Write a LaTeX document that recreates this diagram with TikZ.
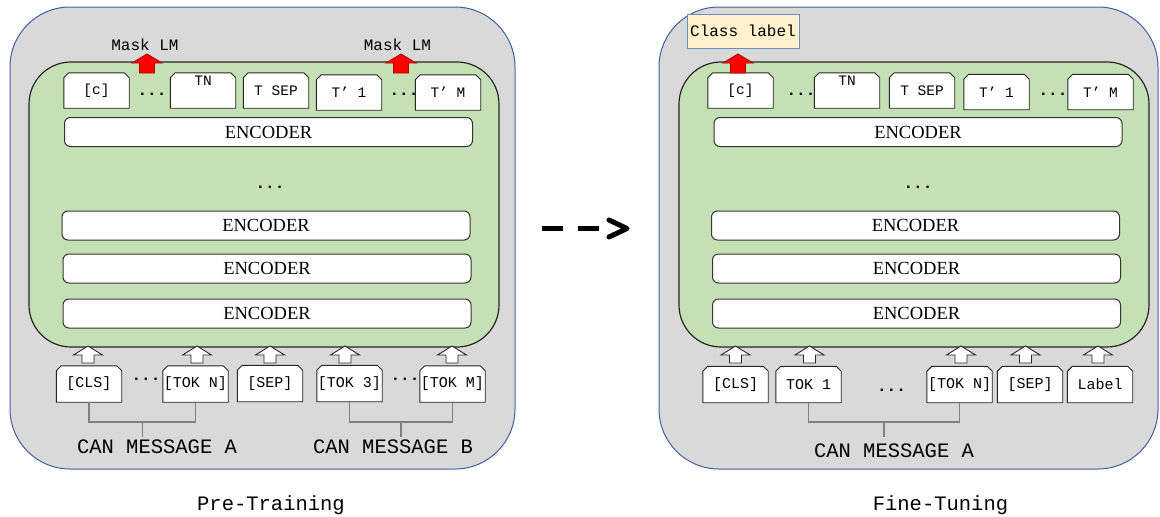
\documentclass[tikz,border=0pt]{standalone}
\usepackage{fontspec}
\setmainfont{Liberation Serif}
\newfontfamily\monof{Liberation Mono}
\usetikzlibrary{calc}
\definecolor{boxgray}{RGB}{217,217,217}
\definecolor{boxblue}{RGB}{65,95,160}
\definecolor{encgreen}{RGB}{197,224,180}
\definecolor{lblyellow}{RGB}{255,242,204}
\definecolor{lblblue}{RGB}{108,142,191}
\definecolor{redborder}{RGB}{178,0,0}
\definecolor{brgray}{RGB}{128,128,128}
\pgfdeclarelayer{back}
\pgfdeclarelayer{mid}
\pgfsetlayers{back,mid,main}
\begin{document}
\begin{tikzpicture}[x=1pt,y=-1pt,
  outerbox/.style={draw=boxblue, fill=boxgray, line width=1pt, rounded corners=60pt},
  greenbox/.style={draw=black!85, fill=encgreen, line width=1.2pt, rounded corners=42pt},
  encoder/.style={draw=black!80, fill=white, line width=1pt, rounded corners=6pt,
    minimum width=408pt, minimum height=29pt, inner sep=0pt, font=\fontsize{18.5}{20}\selectfont},
  tokbox/.style={rectangle, minimum width=65pt, minimum height=35pt, inner sep=0pt,
    font=\monof\fontsize{14.5}{16}\selectfont},
  btok/.style={tokbox, minimum height=36pt, font=\monof\fontsize{15}{16}\selectfont},
  tokline/.style={draw=black!85, fill=white, line width=0.9pt},
  dotsty/.style={font=\monof\bfseries\fontsize{16}{16}\selectfont, inner sep=0pt},
  masklbl/.style={font=\monof\fontsize{16}{18}\selectfont, inner sep=0pt, anchor=base},
  msg/.style={font=\monof\fontsize{20.5}{22}\selectfont, inner sep=0pt, anchor=base},
  classlbl/.style={draw=lblblue, fill=lblyellow, line width=1pt, minimum width=112pt,
    minimum height=34pt, inner sep=0pt, font=\monof\fontsize{16}{18}\selectfont},
  bracket/.style={draw=brgray, line width=1.2pt},
  upw/.pic={\draw[draw=black!85, fill=white, line width=0.9pt, line join=miter]
    (-6,0) -- (-6,-8) -- (-14.5,-8) -- (0,-17) -- (14.5,-8) -- (6,-8) -- (6,0) -- cycle;},
  upr/.pic={\draw[draw=redborder, fill=red, line width=0.9pt, line join=miter]
    (-7.5,0) -- (-7.5,-10) -- (-15,-10) -- (0,-19) -- (15,-10) -- (7.5,-10) -- (7.5,0) -- cycle;}
]
\useasboundingbox (0,0) rectangle (1160,517);
\begin{pgfonlayer}{back}
\fill[white] (0,0) rectangle (1160,517);
\path[outerbox] (10,7) rectangle (515,469);
\path[greenbox] (29,62) rectangle (499,347);
\path[outerbox] (659,7) rectangle (1158,469);
\path[greenbox] (679,62) rectangle (1149,347);
\end{pgfonlayer}

% ================= LEFT: PRE-TRAINING =================
\node[masklbl] (mlm1) at (145,50) {Mask LM};
\node[masklbl] (mlm2) at (397.5,50) {Mask LM};

\node[tokbox] (cL)    at (96.5,90.5) {[c]};
\node[tokbox] (tnL)   at (203,90.5)  {\raisebox{5.5pt}[0pt][0pt]{TN}};
\node[tokbox] (tsepL) at (276,90.5)  {T SEP};
\node[tokbox] (t1L)   at (349,92.5)  {T’ 1};
\node[tokbox] (tmL)   at (448,92.5)  {T’ M};
\node[dotsty] (d1L) at (152,94) {...};
\node[dotsty] (d2L) at (404,94) {...};

\pic at (147,73) {upr};
\pic at (401,73) {upr};

\node[encoder] (e1L) at (268.5,132)   {ENCODER};
\node[dotsty]  (mdL) at (270,187)     {...};
\node[encoder] (e2L) at (266,225.5)   {ENCODER};
\node[encoder] (e3L) at (267,268.5)   {ENCODER};
\node[encoder] (e4L) at (267,313.5)   {ENCODER};

\node[btok] (clsL)  at (89,384)    {[CLS]};
\node[btok] (toknL) at (195.5,384) {[TOK N]};
\node[btok] (sepL)  at (270,383.5) {[SEP]};
\node[btok] (tok3L) at (349.5,383.5) {[TOK 3]};
\node[btok] (tokmL) at (452.5,384) {[TOK M]};
\node[dotsty] (d3L) at (146,379) {...};
\node[dotsty] (d4L) at (405,379) {...};

\pic at (88,363)  {upw};
\pic at (197,363) {upw};
\pic at (270,363) {upw};
\pic at (345,363) {upw};
\pic at (452,363) {upw};

\coordinate (yb) at (0,422);
\draw[bracket] (clsL.south) -- (clsL.south |- yb) -- (toknL.south |- yb) -- (toknL.south);
\coordinate (stemA) at ($(clsL.south |- yb)!0.5!(toknL.south |- yb)$);
\draw[bracket] (stemA) -- ++(0,15);
\draw[bracket] (tok3L.south) -- (tok3L.south |- yb) -- (tokmL.south |- yb) -- (tokmL.south);
\coordinate (stemB) at ($(tok3L.south |- yb)!0.5!(tokmL.south |- yb)$);
\draw[bracket] (stemB) -- ++(0,15);

\node[msg] (msgA) at (157,453) {CAN MESSAGE A};
\node[msg] (msgB) at (393,453) {CAN MESSAGE B};
\node[msg] (pre)  at (271,510) {Pre-Training};

% ================= ARROW =================
\coordinate (da) at (542,228);
\coordinate (db) at (600,228);
\draw[line width=5pt, dash pattern=on 21pt off 15pt] (da) -- (db);
\coordinate (ca) at (609,220);
\coordinate (cb) at (627,228.5);
\coordinate (cc) at (609,237);
\draw[line width=5pt, line join=round, line cap=round] (ca) -- (cb) -- (cc);

% ================= RIGHT: FINE-TUNING =================
\node[classlbl] (cls) at (743,31) {Class label};

\node[tokbox] (cR)    at (740.5,90.5) {[c]};
\node[tokbox] (tnR)   at (847,90.5)   {\raisebox{5.5pt}[0pt][0pt]{TN}};
\node[tokbox] (tsepR) at (922,90.5)   {T SEP};
\node[tokbox] (t1R)   at (996.5,92)   {T’ 1};
\node[tokbox] (tmR)   at (1100.5,92)  {T’ M};
\node[dotsty] (d1R) at (801,94)  {...};
\node[dotsty] (d2R) at (1053,94) {...};

\pic at (738,73) {upr};

\node[encoder] (e1R) at (918,132)   {ENCODER};
\node[dotsty]  (mdR) at (918,187)   {...};
\node[encoder] (e2R) at (915.5,225.5) {ENCODER};
\node[encoder] (e3R) at (916.5,268.5) {ENCODER};
\node[encoder] (e4R) at (916.5,313.5) {ENCODER};

\node[btok] (clsR)  at (735.5,384.5) {[CLS]};
\node[btok] (tok1R) at (808.5,384.5) {TOK 1};
\node[btok] (toknR) at (959.5,384.5) {[TOK N]};
\node[btok] (sepR)  at (1030,384.5)  {[SEP]};
\node[btok] (labR)  at (1100,384.5)  {Label};
\node[dotsty] (d3R) at (891.5,390) {...};

\pic at (735.5,363) {upw};
\pic at (809.5,363) {upw};
\pic at (961,363)   {upw};
\pic at (1025.5,363) {upw};
\pic at (1098,363)  {upw};

\draw[bracket] (tok1R.south) -- (tok1R.south |- yb) -- (toknR.south |- yb) -- (toknR.south);
\coordinate (stemC) at ($(tok1R.south |- yb)!0.5!(toknR.south |- yb)$);
\draw[bracket] (stemC) -- ++(0,15);

\node[msg] (msgC) at (894,457) {CAN MESSAGE A};
\node[msg] (fine) at (940.5,510) {Fine-Tuning};

% ---- chamfered token outlines (behind the texts) ----
\begin{pgfonlayer}{mid}
\foreach \n in {cL,tnL,tsepL,t1L,tmL,clsL,toknL,sepL,tok3L,tokmL,cR,tnR,tsepR,t1R,tmR,clsR,tok1R,toknR,sepR,labR}
  \path[tokline] (\n.south west) -- ([yshift=-5pt]\n.north west) -- ([xshift=5pt]\n.north west)
     -- ([xshift=-5pt]\n.north east) -- ([yshift=-5pt]\n.north east) -- (\n.south east) -- cycle;
\end{pgfonlayer}
\end{tikzpicture}
\end{document}
